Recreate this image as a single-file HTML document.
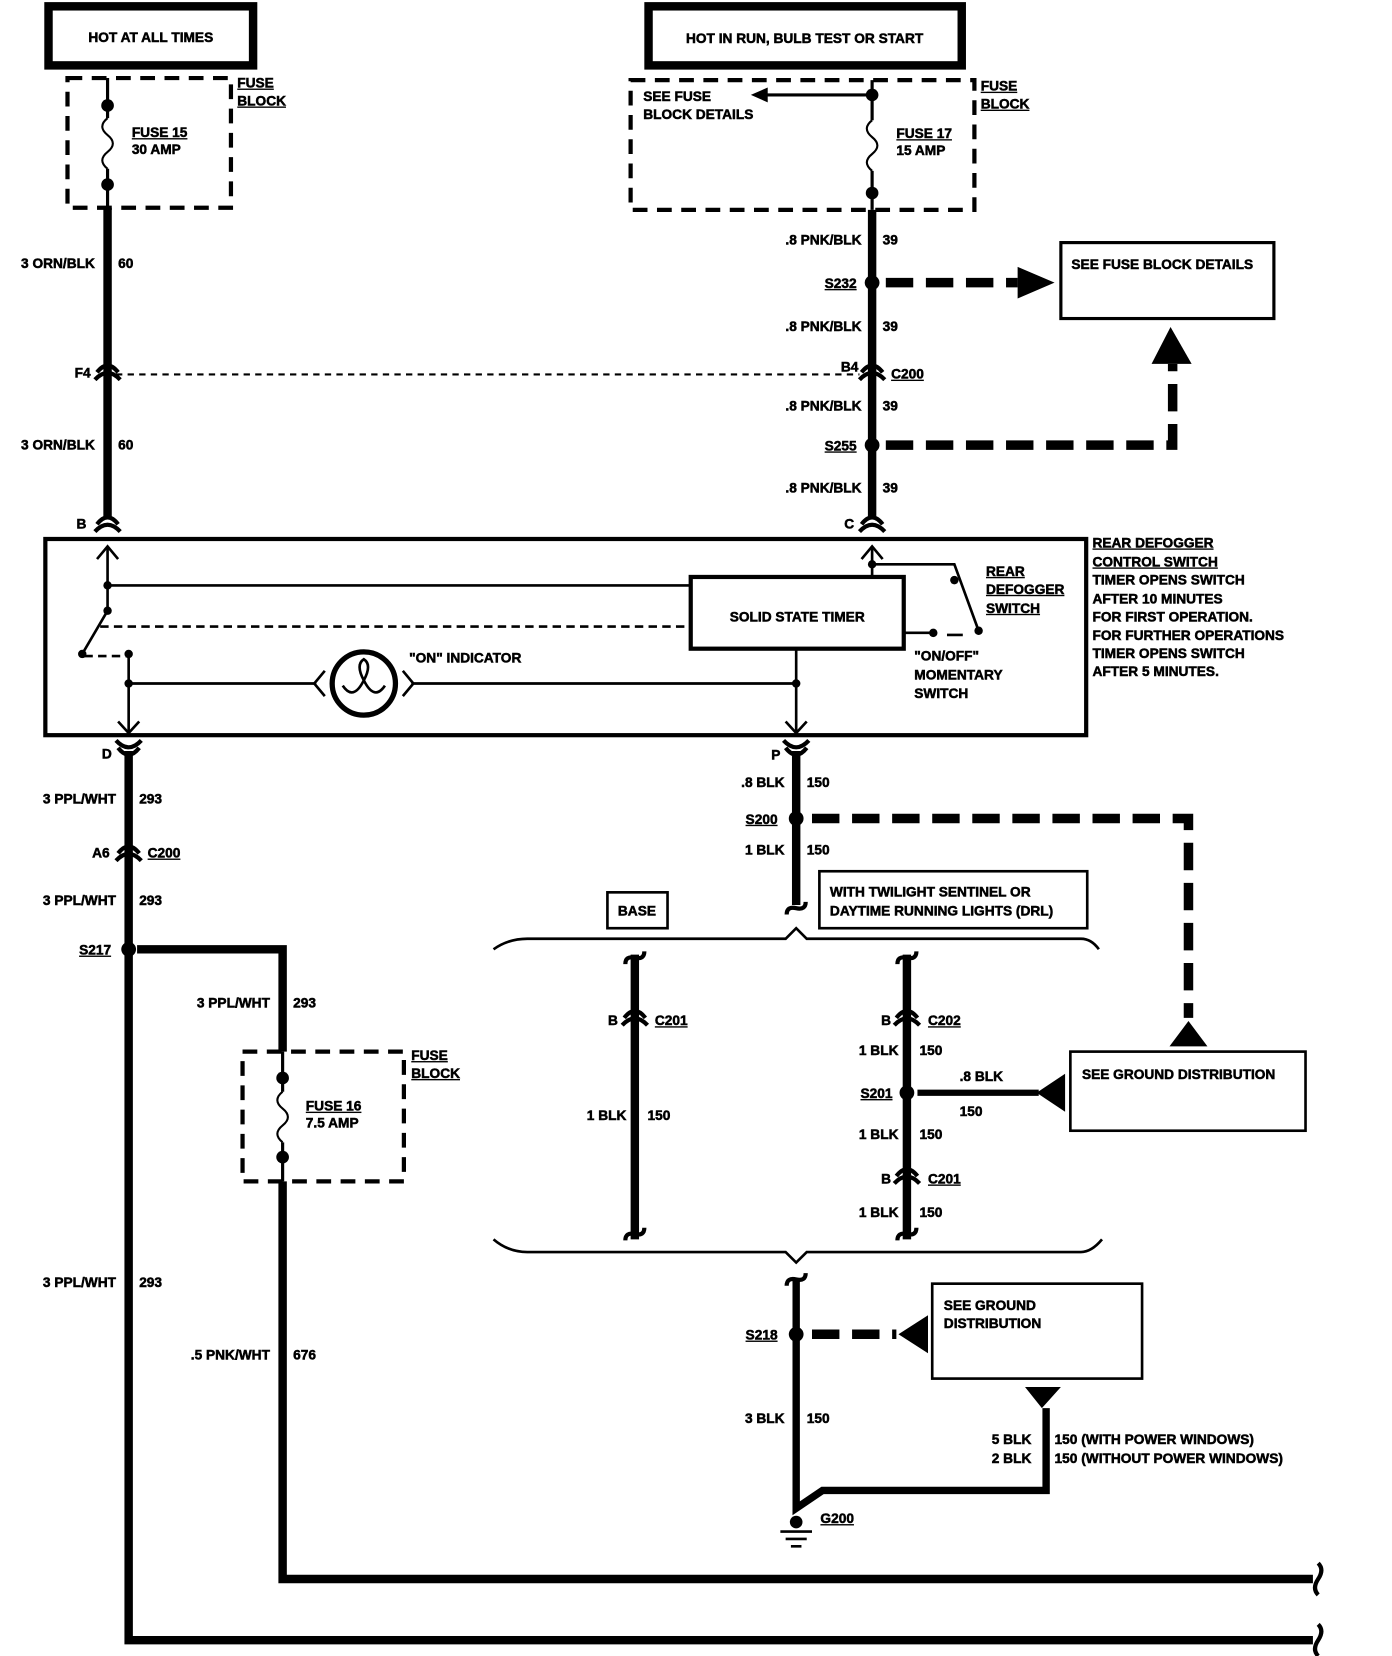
<!DOCTYPE html>
<html><head><meta charset="utf-8"><style>
html,body{margin:0;padding:0;background:#fff;}
svg{display:block}
text{font-family:"Liberation Sans",sans-serif;font-weight:bold;font-size:13px;fill:#000;stroke:#000;stroke-width:0.5px;}
</style></head><body>
<svg width="1392" height="1656" viewBox="0 0 1320 1570" preserveAspectRatio="none" xmlns="http://www.w3.org/2000/svg">
<defs>
<g id="conn"><path d="M-10,3 Q0,-10 10,3" fill="none" stroke="#000" stroke-width="4"/><path d="M-12,10 Q0,-3 12,10" fill="none" stroke="#000" stroke-width="4"/></g>
<g id="capT"><path d="M-9,4 Q-9,-4 0,-2 Q9,0 9,-8" fill="none" stroke="#000" stroke-width="4"/></g>
</defs>
<g fill="none" stroke="#000">
<rect x="46" y="6" width="194" height="56" stroke-width="8"/>
<rect x="615" y="6" width="297" height="56" stroke-width="8"/>
<rect x="64" y="74" width="155" height="123" stroke-width="4" stroke-dasharray="14,9"/>
<rect x="598" y="76" width="326" height="123" stroke-width="4" stroke-dasharray="14,9"/>
<rect x="230" y="997" width="153" height="123" stroke-width="4" stroke-dasharray="14,9"/>
<path d="M102,74 V112 M102,160 V197" stroke-width="3"/>
<path d="M102,112 q-10,8 0,16 q10,8 0,16 q-10,8 0,16" stroke-width="2"/>
<path d="M827,76 V114 M827,162 V199 M827,90 H720" stroke-width="3"/>
<path d="M827,114 q-10,8 0,16 q10,8 0,16 q-10,8 0,16" stroke-width="2"/>
<path d="M268,997 V1035 M268,1083 V1120" stroke-width="3"/>
<path d="M268,1035 q-10,8 0,16 q10,8 0,16 q-10,8 0,16" stroke-width="2"/>
<path d="M102,197 V492" stroke-width="8"/>
<path d="M827,199 V492" stroke-width="8"/>
<path d="M110,355 H815" stroke-width="2" stroke-dasharray="6,5"/>
<path d="M840,268 H965" stroke-width="9" stroke-dasharray="26,12"/>
<path d="M840,422 H1112 V345" stroke-width="9" stroke-dasharray="26,12"/>
<rect x="1006" y="230" width="202" height="72" stroke-width="3"/>
<rect x="43" y="511" width="987" height="186" stroke-width="4"/>
<rect x="655" y="547" width="202" height="68" stroke-width="4"/>
<path d="M102,518 V579 L78,620 M102,555 H655 M122,620 V695 M122,648 H300 M390,648 H755 M755,615 V695 M827,518 V547 M827,535 H905 L928,598 M857,600 H885 M898,602 H913" stroke-width="2.5"/>
<path d="M92,530 L102,518 L112,530 M112,684 L122,695 L132,684 M745,684 L755,695 L765,684 M817,530 L827,518 L837,530" stroke-width="2.5"/>
<path d="M80,622 H122 M95,594 H655" stroke-width="2.5" stroke-dasharray="8,5"/>
<circle cx="345" cy="648" r="30" stroke-width="5"/>
<path d="M308,636 L298,648 L308,660 M382,636 L392,648 L382,660 M325,650 q10,15 20,-5 q-8,-15 0,-20 q8,5 0,20 q10,20 20,5" stroke-width="2.5"/>
<path d="M122,712 V1555 H1245 M130,900 H268 V997 M268,1120 V1497 H1245" stroke-width="8"/>
<path d="M1250,1482 q6,6 0,15 q-6,9 0,15 M1250,1540 q6,6 0,15 q-6,9 0,15" stroke-width="4"/>
<path d="M755,712 V858" stroke-width="8"/>
<path d="M770,776 H1127 V965" stroke-width="9" stroke-dasharray="26,12"/>
<rect x="777" y="826" width="254" height="54" stroke-width="2.5"/>
<rect x="576" y="846" width="57" height="34" stroke-width="2.5"/>
<path d="M468,900 Q482,890 500,890 H745 L755,880 L765,890 H1025 Q1035,890 1042,900" stroke-width="2.5"/>
<path d="M468,1175 Q482,1187 500,1187 H745 L755,1197 L765,1187 H1025 Q1035,1187 1045,1175" stroke-width="2.5"/>
<path d="M602,905 V1175 M860,905 V1175" stroke-width="8"/>
<path d="M870,1036 H985" stroke-width="6"/>
<rect x="1015" y="997" width="223" height="75" stroke-width="2.5"/>
<path d="M755,1212 V1430 L780,1413 H992 V1335" stroke-width="7"/>
<path d="M770,1265 H850" stroke-width="9" stroke-dasharray="26,12"/>
<rect x="884" y="1217" width="199" height="90" stroke-width="2.5"/>
<path d="M740,1452 H770 M745,1459 H765 M750,1466 H760" stroke-width="2.5"/>
</g>
<g fill="#000">
<path d="M712,90 L728,83 L728,97 Z"/>
<path d="M965,253 L1000,268 L965,283 Z"/>
<path d="M1110,310 L1130,345 L1092,345 Z"/>
<path d="M1127,968 L1145,992 L1109,992 Z"/>
<path d="M983,1036 L1010,1018 L1010,1054 Z"/>
<path d="M852,1265 L880,1247 L880,1283 Z"/>
<path d="M972,1315 H1006 L988,1335 Z"/>
<circle cx="102" cy="100" r="6"/><circle cx="102" cy="175" r="6"/>
<circle cx="827" cy="90" r="6"/><circle cx="827" cy="183" r="6"/>
<circle cx="268" cy="1022" r="6"/><circle cx="268" cy="1097" r="6"/>
<circle cx="827" cy="268" r="7"/><circle cx="827" cy="422" r="7"/>
<circle cx="102" cy="555" r="4"/><circle cx="102" cy="579" r="4"/><circle cx="78" cy="620" r="4"/><circle cx="122" cy="620" r="4"/><circle cx="122" cy="648" r="4"/><circle cx="755" cy="648" r="4"/><circle cx="827" cy="535" r="4"/><circle cx="905" cy="550" r="4"/><circle cx="928" cy="598" r="4"/><circle cx="885" cy="600" r="4"/>
<circle cx="122" cy="900" r="7"/><circle cx="755" cy="776" r="7"/><circle cx="860" cy="1036" r="7"/><circle cx="755" cy="1265" r="7"/><circle cx="755" cy="1443" r="6"/>
</g>
<use href="#conn" x="102" y="350"/><use href="#conn" x="827" y="350"/>
<use href="#conn" x="102" y="494"/><use href="#conn" x="827" y="494"/>
<g transform="translate(122,712) scale(1,-1)"><use href="#conn"/></g>
<g transform="translate(755,712) scale(1,-1)"><use href="#conn"/></g>
<use href="#conn" x="122" y="806"/>
<use href="#conn" x="602" y="962"/><use href="#conn" x="860" y="962"/><use href="#conn" x="860" y="1112"/>
<use href="#capT" x="602" y="910"/><use href="#capT" x="860" y="910"/><use href="#capT" x="755" y="1215"/>
<use href="#capT" x="602" y="1172"/><use href="#capT" x="860" y="1172"/><use href="#capT" x="755" y="863"/>
<text x="143" y="40" text-anchor="middle">HOT AT ALL TIMES</text>
<text x="763" y="41" text-anchor="middle">HOT IN RUN, BULB TEST OR START</text>
<g text-decoration="underline">
<text x="125" y="130">FUSE 15</text><text x="225" y="83">FUSE</text><text x="225" y="100">BLOCK</text>
<text x="850" y="131">FUSE 17</text><text x="930" y="86">FUSE</text><text x="930" y="103">BLOCK</text>
<text x="290" y="1053">FUSE 16</text><text x="390" y="1005">FUSE</text><text x="390" y="1022">BLOCK</text>
<text x="782" y="273">S232</text><text x="845" y="359">C200</text><text x="782" y="427">S255</text>
<text x="935" y="546">REAR</text><text x="935" y="563">DEFOGGER</text><text x="935" y="581">SWITCH</text>
<text x="1036" y="519">REAR DEFOGGER</text><text x="1036" y="537">CONTROL SWITCH</text>
<text x="140" y="813">C200</text><text x="75" y="905">S217</text><text x="707" y="781">S200</text>
<text x="621" y="972">C201</text><text x="880" y="972">C202</text><text x="816" y="1041">S201</text><text x="880" y="1122">C201</text>
<text x="707" y="1270">S218</text><text x="778" y="1444">G200</text>
</g>
<text x="125" y="146">30 AMP</text><text x="850" y="147">15 AMP</text><text x="290" y="1069">7.5 AMP</text>
<text x="610" y="96">SEE FUSE</text><text x="610" y="113">BLOCK DETAILS</text>
<g text-anchor="end">
<text x="90" y="254">3 ORN/BLK</text><text x="90" y="426">3 ORN/BLK</text><text x="86" y="358">F4</text><text x="82" y="501">B</text>
<text x="817" y="232">.8 PNK/BLK</text><text x="817" y="314">.8 PNK/BLK</text><text x="817" y="389">.8 PNK/BLK</text><text x="817" y="467">.8 PNK/BLK</text>
<text x="814" y="352">B4</text><text x="810" y="501">C</text>
<text x="106" y="719">D</text><text x="110" y="762">3 PPL/WHT</text><text x="104" y="813">A6</text><text x="110" y="858">3 PPL/WHT</text><text x="110" y="1220">3 PPL/WHT</text>
<text x="256" y="955">3 PPL/WHT</text><text x="256" y="1289">.5 PNK/WHT</text>
<text x="740" y="720">P</text><text x="744" y="746">.8 BLK</text><text x="744" y="810">1 BLK</text>
<text x="586" y="972">B</text><text x="594" y="1062">1 BLK</text>
<text x="845" y="972">B</text><text x="852" y="1000">1 BLK</text><text x="852" y="1080">1 BLK</text><text x="845" y="1122">B</text><text x="852" y="1154">1 BLK</text>
<text x="744" y="1349">3 BLK</text><text x="978" y="1369">5 BLK</text><text x="978" y="1387">2 BLK</text>
</g>
<text x="112" y="254">60</text><text x="112" y="426">60</text>
<text x="837" y="232">39</text><text x="837" y="314">39</text><text x="837" y="389">39</text><text x="837" y="467">39</text>
<text x="132" y="762">293</text><text x="132" y="858">293</text><text x="132" y="1220">293</text>
<text x="278" y="955">293</text><text x="278" y="1289">676</text>
<text x="765" y="746">150</text><text x="765" y="810">150</text>
<text x="614" y="1062">150</text><text x="872" y="1000">150</text><text x="872" y="1080">150</text><text x="872" y="1154">150</text>
<text x="910" y="1025">.8 BLK</text><text x="910" y="1058">150</text>
<text x="765" y="1349">150</text><text x="1000" y="1369">150 (WITH POWER WINDOWS)</text><text x="1000" y="1387">150 (WITHOUT POWER WINDOWS)</text>
<text x="1016" y="255">SEE FUSE BLOCK DETAILS</text>
<text x="1026" y="1023">SEE GROUND DISTRIBUTION</text>
<text x="895" y="1242">SEE GROUND</text><text x="895" y="1259">DISTRIBUTION</text>
<text x="604" y="868" text-anchor="middle">BASE</text>
<text x="787" y="850">WITH TWILIGHT SENTINEL OR</text><text x="787" y="868">DAYTIME RUNNING LIGHTS (DRL)</text>
<text x="756" y="589" text-anchor="middle">SOLID STATE TIMER</text>
<text x="388" y="628">"ON" INDICATOR</text>
<text x="867" y="626">"ON/OFF"</text><text x="867" y="644">MOMENTARY</text><text x="867" y="662">SWITCH</text>
<text x="1036" y="554">TIMER OPENS SWITCH</text><text x="1036" y="572">AFTER 10 MINUTES</text><text x="1036" y="589">FOR FIRST OPERATION.</text><text x="1036" y="607">FOR FURTHER OPERATIONS</text><text x="1036" y="624">TIMER OPENS SWITCH</text><text x="1036" y="641">AFTER 5 MINUTES.</text>
</svg>
</body></html>
